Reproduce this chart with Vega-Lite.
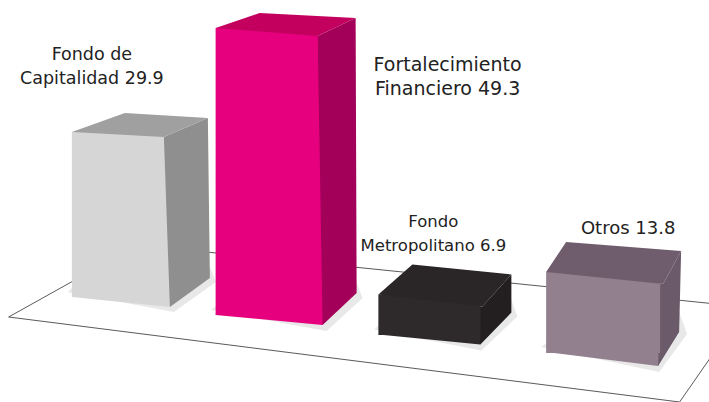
{
  "$schema": "https://vega.github.io/schema/vega-lite/v6.json",
  "width": 709,
  "height": 402,
  "padding": 0,
  "autosize": "none",
  "background": "#ffffff",
  "config": {"view": {"stroke": null}},
  "params": [
    {"name": "dx", "expr": "{'Fondo de Capitalidad':10,'Fortalecimiento Financiero':-3,'Fondo Metropolitano':-2,'Otros':10}"},
    {"name": "dy", "expr": "{'Fondo de Capitalidad':0,'Fortalecimiento Financiero':18,'Fondo Metropolitano':38,'Otros':56}"},
    {"name": "ancho", "expr": "{'Fondo de Capitalidad':92,'Fortalecimiento Financiero':102,'Fondo Metropolitano':102,'Otros':114}"},
    {"name": "tx", "expr": "{'Fondo de Capitalidad':-16,'Fortalecimiento Financiero':178,'Fondo Metropolitano':2,'Otros':35}"},
    {"name": "ty", "expr": "{'Fondo de Capitalidad':-72,'Fortalecimiento Financiero':61,'Fondo Metropolitano':-29.5,'Otros':18}"},
    {"name": "ts", "expr": "{'Fondo de Capitalidad':17.5,'Fortalecimiento Financiero':19,'Fondo Metropolitano':16.5,'Otros':18}"}
  ],
  "data": {"values": [
    {"categoria": "Fondo de Capitalidad", "valor": 29.9, "etiqueta": "Fondo de\nCapitalidad 29.9"},
    {"categoria": "Fortalecimiento Financiero", "valor": 49.3, "etiqueta": "Fortalecimiento\nFinanciero 49.3"},
    {"categoria": "Fondo Metropolitano", "valor": 6.9, "etiqueta": "Fondo\nMetropolitano 6.9"},
    {"categoria": "Otros", "valor": 13.8, "etiqueta": "Otros 13.8"}
  ]},
  "encoding": {
    "x": {"field": "categoria", "type": "nominal", "axis": null, "scale": {"domain": ["Fondo de Capitalidad", "Fortalecimiento Financiero", "Fondo Metropolitano", "Otros"], "range": [27, 674], "paddingInner": 0, "paddingOuter": 0}},
    "y": {"field": "valor", "type": "quantitative", "axis": null, "scale": {"domain": [0, 13.8, 29.9, 49.3], "range": [297, 216, 132, 10], "nice": false, "zero": false, "clamp": false}}
  },
  "layer": [
    {
      "transform": [{"filter": "datum.categoria === 'Fortalecimiento Financiero'"}],
      "mark": {"type": "point", "shape": "M-258,289L413,374L479,279L-129,217Z", "size": 4, "filled": false, "stroke": "#5a5a5a", "strokeWidth": 1, "opacity": 1, "xOffset": {"expr": "dx[datum.categoria]"}, "yOffset": {"expr": "dy[datum.categoria]"}}
    },
    {
      "mark": {"type": "point", "size": 4, "filled": true, "opacity": 0.12, "strokeWidth": 0, "fill": "#444444", "xOffset": {"expr": "dx[datum.categoria]"}, "yOffset": {"expr": "dy[datum.categoria]"}},
      "encoding": {
        "shape": {"field": "categoria", "type": "nominal", "legend": null, "scale": {"domain": ["Fondo de Capitalidad", "Fortalecimiento Financiero", "Fondo Metropolitano", "Otros"], "range": ["M-50,160L56,180L98,150L90,130L-40,150Z", "M-56,282L60,303L96,270L88,250L-40,270Z", "M-55,35L52,56L88,22L80,0L-40,20Z", "M-62,75L56,100L84,62L76,40L-40,60Z"]}}
      }
    },
    {
      "mark": {"type": "point", "size": 4, "filled": true, "opacity": 1, "strokeWidth": 0, "xOffset": {"expr": "dx[datum.categoria]"}, "yOffset": {"expr": "dy[datum.categoria]"}},
      "encoding": {
        "shape": {"field": "categoria", "type": "nominal", "legend": null, "scale": {"domain": ["Fondo de Capitalidad", "Fortalecimiento Financiero", "Fondo Metropolitano", "Otros"], "range": ["M40,5L46,5L90,-14L92,146L52,175L40,160Z", "M40,8L51,8L89,-10L90,265L56,297L40,280Z", "M40,12L53,12L82,-20L82,18L51,50L40,35Z", "M40,12L60,12L78,-21L76,60L55,94L40,75Z"]}},
        "color": {"field": "categoria", "type": "nominal", "legend": null, "scale": {"domain": ["Fondo de Capitalidad", "Fortalecimiento Financiero", "Fondo Metropolitano", "Otros"], "range": ["#8f8f8f", "#a3005a", "#231f20", "#6b5a69"]}}
      }
    },
    {
      "mark": {"type": "bar", "width": {"expr": "ancho[datum.categoria]"}, "xOffset": {"expr": "dx[datum.categoria]"}, "x2Offset": {"expr": "dx[datum.categoria]"}, "yOffset": {"expr": "dy[datum.categoria]"}, "y2Offset": {"expr": "dy[datum.categoria]"}},
      "encoding": {
        "color": {"field": "categoria", "type": "nominal", "legend": null, "scale": {"domain": ["Fondo de Capitalidad", "Fortalecimiento Financiero", "Fondo Metropolitano", "Otros"], "range": ["#d6d6d6", "#e6007e", "#2e2a2b", "#93808f"]}}
      }
    },
    {
      "mark": {"type": "point", "size": 4, "filled": true, "opacity": 1, "strokeWidth": 0, "xOffset": {"expr": "dx[datum.categoria]"}, "yOffset": {"expr": "dy[datum.categoria]"}},
      "encoding": {
        "shape": {"field": "categoria", "type": "nominal", "legend": null, "scale": {"domain": ["Fondo de Capitalidad", "Fortalecimiento Financiero", "Fondo Metropolitano", "Otros"], "range": ["M-46,165L52,175L46,5Z", "M-51,287L56,297L51,8Z", "M-51,40L51,50L51,12Z", "M-57,80L55,94L57,12Z"]}},
        "color": {"field": "categoria", "type": "nominal", "legend": null, "scale": {"domain": ["Fondo de Capitalidad", "Fortalecimiento Financiero", "Fondo Metropolitano", "Otros"], "range": ["#d6d6d6", "#e6007e", "#2e2a2b", "#93808f"]}}
      }
    },
    {
      "mark": {"type": "point", "size": 4, "filled": true, "opacity": 1, "strokeWidth": 0, "xOffset": {"expr": "dx[datum.categoria]"}, "yOffset": {"expr": "dy[datum.categoria]"}},
      "encoding": {
        "shape": {"field": "categoria", "type": "nominal", "legend": null, "scale": {"domain": ["Fondo de Capitalidad", "Fortalecimiento Financiero", "Fondo Metropolitano", "Otros"], "range": ["M-46,0L7,-19L90,-14L46,5Z", "M-51,0L-7,-15L89,-10L51,8Z", "M-51,0L-17,-30L82,-20L53,12Z", "M-57,0L-37,-30L78,-21L60,12Z"]}},
        "color": {"field": "categoria", "type": "nominal", "legend": null, "scale": {"domain": ["Fondo de Capitalidad", "Fortalecimiento Financiero", "Fondo Metropolitano", "Otros"], "range": ["#a0a0a0", "#c4005f", "#2a2627", "#6f5d6d"]}}
      }
    },
    {
      "mark": {"type": "text", "font": "DejaVu Sans", "fontSize": {"expr": "ts[datum.categoria]"}, "fill": "#222222", "align": "center", "baseline": "alphabetic", "lineBreak": "\n", "lineHeight": 24, "xOffset": {"expr": "tx[datum.categoria]"}, "yOffset": {"expr": "ty[datum.categoria]"}},
      "encoding": {"text": {"field": "etiqueta"}}
    }
  ],
  "resolve": {"scale": {"shape": "independent", "color": "independent"}}
}
